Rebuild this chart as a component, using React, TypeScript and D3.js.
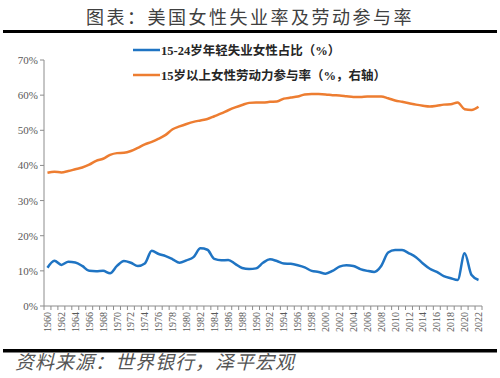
import React from "react";
import * as d3 from "d3";

const years: number[] = d3.range(1960, 2023);
const youthUnemp: number[] = [
  10.9, 12.9, 11.7, 12.6, 12.4, 11.4, 10.0, 9.9, 10.0, 9.3,
  11.4, 12.8, 12.3, 11.4, 12.1, 15.7, 14.8, 14.2, 13.3, 12.3,
  13.0, 13.9, 16.4, 16.0, 13.4, 13.0, 13.1, 12.0, 10.8, 10.5,
  10.7, 12.3, 13.3, 12.8, 12.1, 12.0, 11.6, 11.0, 10.0, 9.7,
  9.2, 10.0, 11.2, 11.6, 11.4, 10.5, 10.0, 9.7, 11.4, 15.2,
  15.9, 15.9, 15.0, 13.9, 12.1, 10.6, 9.7, 8.5, 7.9, 7.4,
  15.0, 8.8, 7.4,
];
const femaleLfpr: number[] = [
  37.9, 38.2, 38.0, 38.4, 38.9, 39.4, 40.2, 41.3, 41.9, 43.0,
  43.5, 43.6, 44.1, 45.0, 46.0, 46.7, 47.6, 48.7, 50.3, 51.1,
  51.8, 52.4, 52.8, 53.2, 54.0, 54.8, 55.7, 56.5, 57.2, 57.8,
  57.9, 57.9, 58.1, 58.2, 59.0, 59.3, 59.6, 60.2, 60.3, 60.3,
  60.2, 60.0, 59.9, 59.7, 59.5, 59.5, 59.6, 59.6, 59.6, 59.1,
  58.5, 58.1, 57.7, 57.3, 57.0, 56.8, 57.0, 57.3, 57.4, 57.9,
  56.0, 55.8, 56.7,
];
const yTicks: number[] = [0, 10, 20, 30, 40, 50, 60, 70];
const seriesNames: string[] = ["15-24岁年轻失业女性占比（%）", "15岁以上女性劳动力参与率（%，右轴）"];
const seriesColors: string[] = ["#1f74c3", "#ed7d31"];
const title = "图表：美国女性失业率及劳动参与率";
const source = "资料来源：世界银行，泽平宏观";

const W = 500, H = 378;
const left = 44, right = 482, top = 60, bottom = 306;

export default function App() {
  const x = d3.scaleBand<number>().domain(years).range([left, right]);
  const y = d3.scaleLinear().domain([0, 70]).range([bottom, top]);
  const cx = (yr: number) => (x(yr) as number) + x.bandwidth() / 2;
  const line = d3
    .line<number>()
    .x((_, i) => cx(years[i]))
    .y((v) => y(v))
    .curve(d3.curveMonotoneX);
  const serif = "'Liberation Serif', 'Noto Sans CJK SC', serif";
  const boundaries = d3.range(0, years.length + 1).map((i) => left + i * x.step());
  return (
    <svg width={W} height={H} style={{ position: "absolute", left: 0, top: 0, background: "#fff" }}>
      <rect x={0} y={0} width={W} height={H} fill="#fff" />
      <text x={250} y={24} textAnchor="middle" fontSize={18} letterSpacing={2.5}
        fontFamily="'Noto Sans CJK SC', sans-serif" fill="#404040">{title}</text>
      <rect x={3} y={30} width={494} height={3} fill="#000" />
      {/* y axis */}
      <line x1={left} x2={left} y1={top} y2={bottom} stroke="#8c8c8c" strokeWidth={1} />
      {yTicks.map((t) => (
        <g key={t}>
          <line x1={left - 4} x2={left} y1={y(t)} y2={y(t)} stroke="#8c8c8c" />
          <text x={38} y={y(t) + 4} textAnchor="end" fontSize={11} fontFamily={serif} fill="#595959">{t}%</text>
        </g>
      ))}
      {/* x axis */}
      <line x1={left} x2={right} y1={bottom} y2={bottom} stroke="#8c8c8c" />
      {boundaries.map((b, i) => (
        <line key={i} x1={b} x2={b} y1={bottom} y2={bottom + 4} stroke="#8c8c8c" />
      ))}
      {years.filter((yr) => yr % 2 === 0).map((yr) => (
        <text key={yr} transform={`translate(${cx(yr) + 3.5},${bottom + 6}) rotate(-90)`}
          textAnchor="end" fontSize={10} fontFamily={serif} fill="#595959">{yr}</text>
      ))}
      {/* lines */}
      <path d={line(youthUnemp) || ""} fill="none" stroke={seriesColors[0]} strokeWidth={2.5} />
      <path d={line(femaleLfpr) || ""} fill="none" stroke={seriesColors[1]} strokeWidth={2.5} />
      {/* legend */}
      {seriesNames.map((n, i) => (
        <g key={n}>
          <line x1={133} x2={160} y1={50 + i * 25} y2={50 + i * 25} stroke={seriesColors[i]} strokeWidth={2.5} />
          <text x={161} y={54.5 + i * 25} fontSize={12.5} fontWeight="bold" fontFamily={serif} fill="#262626">{n}</text>
        </g>
      ))}
      <rect x={3} y={349} width={494} height={3.5} fill="#000" />
      <text x={15} y={369} fontSize={19} fontStyle="italic" fontFamily="'Noto Sans CJK SC', sans-serif" fill="#555" letterSpacing={1}>{source}</text>
    </svg>
  );
}
